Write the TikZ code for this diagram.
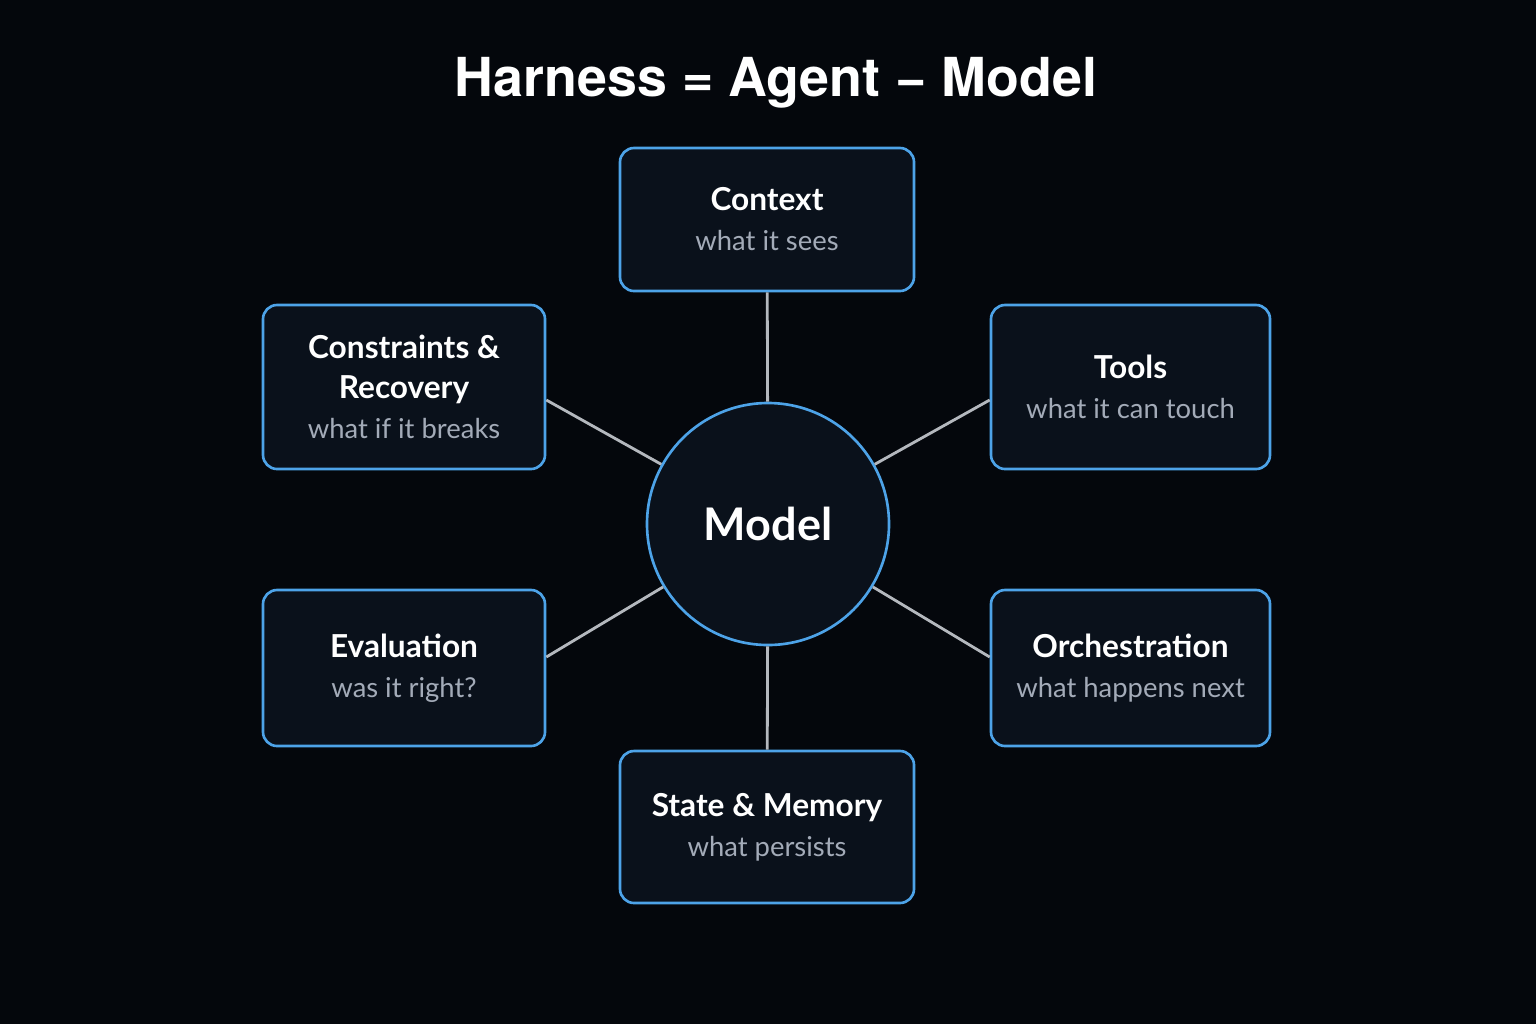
\documentclass[tikz,border=0pt]{standalone}
\usepackage{fontspec}
\setmainfont{Lato}
\newfontfamily\headfont{TeX Gyre Heros}
\usetikzlibrary{calc}

\definecolor{bgdark}{HTML}{04070C}
\definecolor{boxfill}{HTML}{0A111B}
\definecolor{edgeblue}{HTML}{4DA3E8}
\definecolor{linkgray}{HTML}{B4B8BE}
\definecolor{subgray}{HTML}{A3ABB8}

\newcommand{\boxtext}[2]{{\bfseries\color{white}#1}\\{\color{subgray}\fontsize{7.8}{12}\selectfont #2}}

\tikzset{
    box/.style={draw=edgeblue, fill=boxfill, rounded corners=4pt, align=center,
        font=\fontsize{9}{11.4}\selectfont, inner sep=2pt, line width=0.75pt},
    hub/.style={circle, draw=edgeblue, fill=boxfill, line width=0.75pt,
        minimum size=2.42cm, inner sep=0pt, text=white,
        font=\fontsize{12.8}{15}\selectfont\bfseries},
    link/.style={draw=linkgray, line width=0.8pt},
    heading/.style={text=white, font=\headfont\fontsize{15.3}{18}\selectfont\bfseries}
}

\begin{document}
\begin{tikzpicture}
    \fill[bgdark] (0,0) rectangle (15.36,-10.24);
    \useasboundingbox (0,0) rectangle (15.36,-10.24);
    \node[heading, anchor=base] (title) at (7.76,-0.96) {Harness = Agent − Model};
    % central model and the six parts around it
    \node[hub] (model) at (7.68,-5.24) {Model};
    \node[box, minimum width=2.94cm, minimum height=1.43cm] (context) at (7.67,-2.195)
        {\boxtext{Context}{what it sees}};
    \node[box, minimum width=2.82cm, minimum height=1.64cm] (constraints) at (4.04,-3.87)
        {{\bfseries\color{white}Constraints \&}\\\boxtext{Recovery}{what if it breaks}};
    \node[box, minimum width=2.79cm, minimum height=1.64cm] (tools) at (11.305,-3.87)
        {\boxtext{Tools}{what it can touch}};
    \node[box, minimum width=2.82cm, minimum height=1.56cm] (evaluation) at (4.04,-6.68)
        {\boxtext{Evaluation}{was it right?}};
    \node[box, minimum width=2.79cm, minimum height=1.56cm] (orchestration) at (11.305,-6.68)
        {\boxtext{Orchestration}{what happens next}};
    \node[box, minimum width=2.94cm, minimum height=1.52cm] (state) at (7.67,-8.27)
        {\boxtext{State \& Memory}{what persists}};
    % spokes
    \draw[link] (context) -- (model);
    \draw[link] ([yshift=-1.3mm]constraints.east) -- (model);
    \draw[link] ([yshift=-1.3mm]tools.west) -- (model);
    \draw[link] ([yshift=1.1mm]evaluation.east) -- (model);
    \draw[link] ([yshift=1.1mm]orchestration.west) -- (model);
    \draw[link] (state) -- (model);
\end{tikzpicture}
\end{document}
